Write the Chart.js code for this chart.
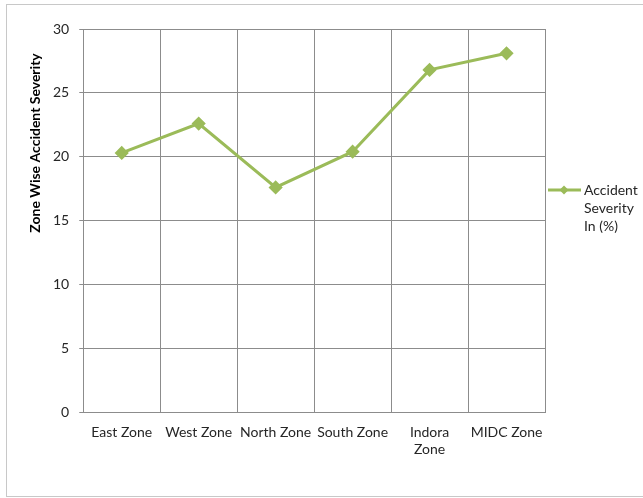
<!DOCTYPE html>
<html>
<head>
<meta charset="utf-8">
<script src="https://cdn.jsdelivr.net/npm/chart.js@4"></script>
<style>
  html, body { margin: 0; padding: 0; background: #fff; }
  #wrap { position: relative; width: 643px; height: 498px; overflow: hidden; }
  #frame { position: absolute; left: 6px; top: 4px; width: 700px; height: 491px; border: 1px solid #c8c8c8; }
  #myChart { position: absolute; left: 0; top: 0; }
</style>
</head>
<body>
<div id="wrap">
  <div id="frame"></div>
  <canvas id="myChart" width="643" height="498"></canvas>
</div>
<script>
const zones = ['East Zone', 'West Zone', 'North Zone', 'South Zone', ['Indora', 'Zone'], 'MIDC Zone'];
const severity = [20.3, 22.6, 17.6, 20.4, 26.8, 28.1];
const seriesName = ['Accident', 'Severity', 'In (%)'];
const yTitle = 'Zone Wise Accident Severity';

const lineColor = '#9bbb59';
const font = 'Lato, "Open Sans", sans-serif';

// legend and rotated axis title drawn by hand so the text can wrap / sit higher
const sideText = {
    id: 'sideText',
    afterDraw(chart) {
        const ctx = chart.ctx;
        const area = chart.chartArea;
        ctx.save();

        // legend entry on the right
        const lx = area.right + 3;
        const ly = 190;
        ctx.strokeStyle = lineColor;
        ctx.lineWidth = 3;
        ctx.beginPath();
        ctx.moveTo(lx, ly);
        ctx.lineTo(lx + 33, ly);
        ctx.stroke();
        ctx.fillStyle = lineColor;
        ctx.beginPath();
        ctx.moveTo(lx + 16, ly - 4.5);
        ctx.lineTo(lx + 20.5, ly);
        ctx.lineTo(lx + 16, ly + 4.5);
        ctx.lineTo(lx + 11.5, ly);
        ctx.closePath();
        ctx.fill();

        ctx.fillStyle = '#262626';
        ctx.font = '14px ' + font;
        ctx.textBaseline = 'middle';
        ctx.textAlign = 'left';
        seriesName.forEach((t, i) => ctx.fillText(t, lx + 36, ly + i * 18));

        // y axis title
        ctx.translate(35, 143);
        ctx.rotate(-Math.PI / 2);
        ctx.font = 'bold 14px ' + font;
        ctx.textAlign = 'center';
        ctx.fillStyle = '#000';
        ctx.fillText(yTitle, 0, 0);
        ctx.restore();
    }
};

const ctx = document.getElementById('myChart').getContext('2d');
const chart = new Chart(ctx, {
    type: 'line',
    data: {
        labels: zones,
        datasets: [{
            label: seriesName.join(' '),
            data: severity,
            borderColor: lineColor,
            backgroundColor: lineColor,
            borderWidth: 3,
            pointStyle: 'rectRot',
            pointRadius: 5,
            pointHoverRadius: 5,
            tension: 0,
        }],
    },
    options: {
        responsive: false,
        animation: false,
        layout: {
            padding: { left: 43, right: 98, top: 29, bottom: 28 },
        },
        plugins: {
            legend: { display: false },
            tooltip: { enabled: false },
        },
        scales: {
            x: {
                offset: true,
                grid: { offset: true, color: '#8c8c8c', tickLength: 0 },
                border: { color: '#8c8c8c' },
                ticks: {
                    color: '#262626',
                    font: { family: font, size: 14 },
                    padding: 12,
                    maxRotation: 0,
                    autoSkip: false,
                },
            },
            y: {
                min: 0,
                max: 30,
                ticks: {
                    stepSize: 5,
                    color: '#262626',
                    font: { family: font, size: 14 },
                    padding: 10,
                },
                grid: { color: '#8c8c8c', tickLength: 4 },
                border: { color: '#8c8c8c' },
            },
        },
    },
    plugins: [sideText],
});
</script>
</body>
</html>
